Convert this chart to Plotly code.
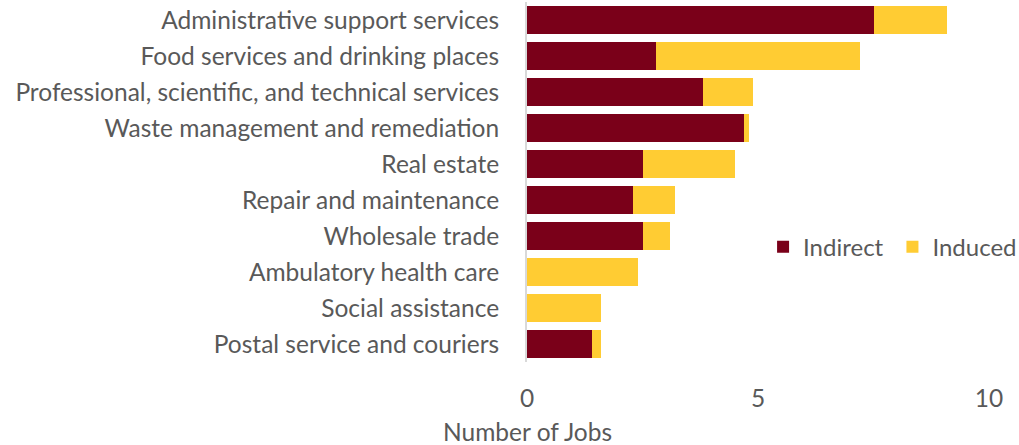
import plotly.graph_objects as go

# Jobs by industry, split into indirect and induced effects
industries = [
    "Administrative support services",
    "Food services and drinking places",
    "Professional, scientific, and technical services",
    "Waste management and remediation",
    "Real estate",
    "Repair and maintenance",
    "Wholesale trade",
    "Ambulatory health care",
    "Social assistance",
    "Postal service and couriers",
]
indirect = [7.5, 2.8, 3.8, 4.7, 2.5, 2.3, 2.5, 0.0, 0.0, 1.4]
induced = [1.6, 4.4, 1.1, 0.1, 2.0, 0.9, 0.6, 2.4, 1.6, 0.2]
x_ticks = [0, 5, 10]

FONT = "Lato"
FS = 24.5
GREY = "#595959"

fig = go.Figure()
fig.add_trace(go.Bar(
    y=industries, x=indirect, name="Indirect", orientation="h",
    marker=dict(color="#7a0019", line=dict(width=0)),
    legend="legend",
))
fig.add_trace(go.Bar(
    y=industries, x=induced, name="Induced", orientation="h",
    marker=dict(color="#ffcc33", line=dict(width=0)),
    legend="legend2",
))

legend_style = dict(
    orientation="h", yanchor="middle", xanchor="left",
    font=dict(family=FONT, size=24, color=GREY),
    bgcolor="rgba(0,0,0,0)", borderwidth=0,
)

fig.update_layout(
    barmode="stack",
    bargap=0.24,
    width=1019, height=445,
    margin=dict(l=527, r=30, t=2, b=83, autoexpand=False),
    paper_bgcolor="white", plot_bgcolor="white",
    font=dict(family=FONT, size=FS, color=GREY),
    showlegend=True,
    legend=dict(x=0.511, y=0.319, **legend_style),
    legend2=dict(x=0.791, y=0.319, **legend_style),
    xaxis=dict(
        range=[0, 10], tickvals=x_ticks, ticktext=[str(v) for v in x_ticks],
        showgrid=False, zeroline=False, showline=False, ticks="",
        tickfont=dict(family=FONT, size=FS, color=GREY),
        ticklabelstandoff=19,
    ),
    yaxis=dict(
        categoryorder="array", categoryarray=industries[::-1],
        showgrid=False, zeroline=False, ticks="",
        showline=True, linecolor="#d9d9d9", linewidth=2,
        tickfont=dict(family=FONT, size=FS, color=GREY),
        ticklabelstandoff=21,
    ),
    annotations=[dict(
        text="Number of Jobs", xref="x", yref="paper", x=0, y=0,
        yshift=-69, xanchor="center", yanchor="middle", showarrow=False,
        font=dict(family=FONT, size=FS, color=GREY),
    )],
)

fig.write_html("out.html")
